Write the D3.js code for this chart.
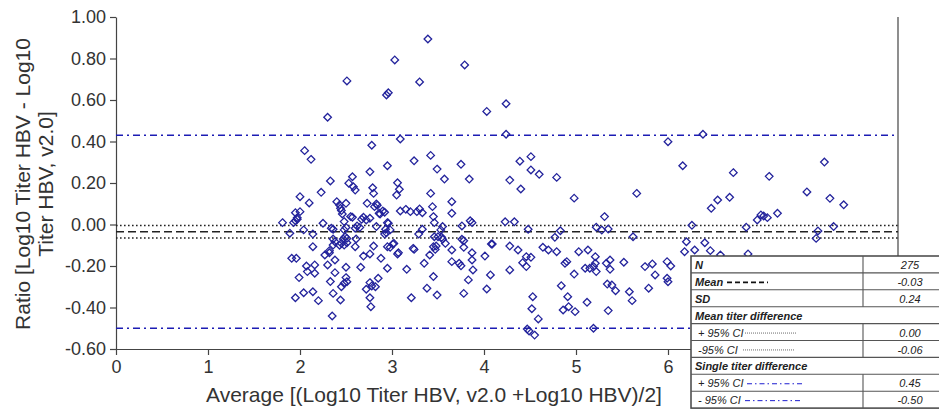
<!DOCTYPE html>
<html>
<head>
<meta charset="utf-8">
<script src="https://cdn.jsdelivr.net/npm/d3@7"></script>
<style>
  body { margin: 0; background: #fff; }
  svg { display: block; font-family: "Liberation Sans", Arial, sans-serif; }
</style>
</head>
<body>
<script>
// Bland-Altman points: average of log titers vs difference
const avg = [
  3.39,3.03,3.79,2.51,3.30,2.96,2.94,4.03,4.24,2.30,4.24,3.09,2.78,2.05,
  2.12,3.42,3.24,2.95,2.76,3.49,3.75,2.57,2.33,2.53,2.58,2.60,3.57,3.84,4.28,4.39,
  3.06,3.08,2.79,2.80,2.23,3.05,3.42,2.00,2.10,2.40,2.50,2.73,2.83,2.81,2.84,3.65,
  3.44,2.44,2.45,2.00,3.09,3.15,3.20,3.27,3.30,3.33,2.90,2.92,2.87,3.65,2.46,2.48,
  1.97,1.95,2.25,2.57,2.67,2.69,2.72,2.76,2.95,2.96,3.45,3.46,1.81,3.76,3.85,3.87,
  4.23,4.33,3.55,2.04,1.89,2.34,2.36,2.48,2.50,2.60,2.62,2.65,2.83,2.93,3.33,3.29,
  3.53,3.46,3.50,3.54,3.55,3.76,2.36,2.38,2.47,2.49,2.51,2.61,2.92,3.02,2.14,2.43,
  2.60,2.80,2.95,3.23,3.45,3.78,4.08,4.28,
  2.45,2.51,2.36,2.48,2.98,3.01,3.24,3.47,3.48,3.58,3.65,3.78,3.87,4.09,4.37,
  1.91,1.96,2.27,2.32,2.38,2.69,2.76,2.88,3.06,3.41,3.65,3.73,3.75,3.87,4.01,
  2.07,2.08,2.16,2.16,1.99,2.30,2.50,2.66,2.95,3.16,3.35,3.88,4.28,2.38,2.50,2.51,
  2.48,2.45,2.85,2.76,2.78,2.82,2.72,3.45,3.83,4.07,3.38,3.49,3.78,4.03,1.95,2.04,
  2.14,2.20,2.36,2.44,2.76,2.77,3.21,2.35,2.33,
  2.43,2.86,1.95,1.97,1.93,2.14,2.94,2.98,3.07,2.32,2.55,
  6.00,6.16,4.51,4.51,4.60,4.79,4.40,4.98,5.66,4.48,4.83,4.77,5.31,5.22,5.28,5.35,
  5.62,6.26,6.20,6.18,6.29,4.64,4.70,4.79,4.46,4.51,4.42,4.46,5.03,5.13,5.21,4.88,
  4.90,5.10,5.15,5.19,5.22,5.21,4.98,5.33,5.37,5.37,5.52,5.75,5.83,5.86,5.99,6.03,
  5.99,6.00,5.79,4.84,5.34,5.39,5.43,5.58,5.61,4.53,4.91,4.52,5.12,4.86,4.92,4.99,
  5.35,4.59,4.47,4.49,5.19,4.55,
  6.38,7.70,6.71,7.10,7.51,7.76,7.91,6.54,6.47,6.67,7.01,7.04,7.08,6.97,7.19,6.85,
  7.80,7.63,7.61,6.40,6.46,6.57,6.87
];
const ratio = [
  0.894,0.793,0.769,0.692,0.687,0.635,0.624,0.545,0.582,0.517,0.435,0.412,0.382,0.356,
  0.314,0.333,0.307,0.283,0.254,0.267,0.290,0.230,0.210,0.199,0.182,0.166,0.219,0.219,0.214,0.305,
  0.201,0.170,0.177,0.150,0.155,0.142,0.150,0.134,0.104,0.110,0.102,0.102,0.099,0.086,0.093,0.110,
  0.086,0.078,0.067,0.062,0.065,0.073,0.062,0.062,0.075,0.057,0.065,0.059,0.051,0.054,0.051,0.014,
  0.033,0.018,0.006,0.035,0.025,0.035,0.022,0.030,0.009,0.006,0.038,0.009,0.009,-0.007,0.018,0.009,
  0.013,0.013,-0.010,-0.026,-0.042,-0.018,-0.023,-0.026,-0.014,-0.018,-0.007,-0.014,-0.010,-0.023,-0.023,-0.046,
  -0.026,-0.059,-0.059,-0.062,-0.071,-0.071,-0.070,-0.083,-0.070,-0.059,-0.067,-0.070,-0.046,-0.091,-0.107,-0.100,
  -0.107,-0.104,-0.107,-0.115,-0.107,-0.110,-0.094,-0.104,
  -0.091,-0.088,-0.099,-0.099,-0.110,-0.094,-0.120,-0.120,-0.104,-0.091,-0.123,-0.078,-0.136,-0.094,-0.123,
  -0.163,-0.163,-0.147,-0.136,-0.171,-0.152,-0.142,-0.163,-0.142,-0.147,-0.179,-0.187,-0.199,-0.171,-0.152,
  -0.200,-0.227,-0.195,-0.235,-0.256,-0.195,-0.206,-0.206,-0.211,-0.216,-0.187,-0.219,-0.219,-0.232,-0.256,-0.276,
  -0.283,-0.300,-0.259,-0.280,-0.296,-0.300,-0.312,-0.251,-0.267,-0.243,-0.307,-0.340,-0.332,-0.311,-0.353,-0.329,
  -0.324,-0.367,-0.332,-0.364,-0.353,-0.396,-0.353,-0.441,-0.275,
  0.094,0.054,0.057,0.025,0.009,-0.046,-0.040,-0.026,-0.136,-0.126,0.038,
  0.399,0.283,0.327,0.263,0.242,0.227,0.171,0.127,0.150,-0.023,-0.030,-0.062,0.038,-0.013,-0.027,-0.022,
  -0.059,-0.004,-0.083,-0.131,-0.123,-0.110,-0.123,-0.131,-0.155,-0.158,-0.184,-0.203,-0.131,-0.123,-0.155,-0.187,
  -0.179,-0.211,-0.211,-0.203,-0.227,-0.187,-0.239,-0.187,-0.171,-0.216,-0.182,-0.203,-0.190,-0.243,-0.179,-0.200,
  -0.259,-0.276,-0.307,-0.295,-0.287,-0.292,-0.319,-0.324,-0.367,-0.348,-0.348,-0.406,-0.375,-0.412,-0.396,-0.420,
  -0.415,-0.455,-0.504,-0.513,-0.500,-0.533,
  0.435,0.301,0.250,0.232,0.157,0.126,0.095,0.118,0.078,0.131,0.046,0.041,0.033,0.022,0.054,-0.013,
  -0.010,-0.031,-0.067,-0.088,-0.126,-0.147,-0.142
];
// ticks 7 and 8 sit under the summary table, so only 0-6 are labelled
const xTicks = [0, 1, 2, 3, 4, 5, 6];
const yTicks = [-0.6, -0.4, -0.2, 0, 0.2, 0.4, 0.6, 0.8, 1.0];
const meanDiff = -0.035;
const meanCI = [-0.005, -0.065];
const agreement = [0.43, -0.50];

const tableLabels = ["N", "Mean", "SD", "Mean titer difference", "+ 95% CI", "-95% CI",
                     "Single titer difference", "+ 95% CI", "- 95% CI"];
const tableValues = ["275", "-0.03", "0.24", null, "0.00", "-0.06", null, "0.45", "-0.50"];

const width = 939, height = 409;
const svg = d3.select("body").append("svg")
    .attr("width", width)
    .attr("height", height);

const x = d3.scaleLinear().domain([0, 8.5]).range([116, 898]);
const y = d3.scaleLinear().domain([-0.6, 1.0]).range([349, 17]);

const fmt = d => d3.format(".2f")(d).replace("\u2212", "-");

// axes
const yAxis = svg.append("g")
    .attr("transform", `translate(${x(0)},0)`)
    .call(d3.axisLeft(y).tickValues(yTicks).tickFormat(fmt).tickSize(6).tickSizeOuter(0).tickPadding(4));
const xAxis = svg.append("g")
    .attr("transform", `translate(0,${y(-0.6)})`)
    .call(d3.axisBottom(x).tickValues(xTicks).tickFormat(d3.format("d")).tickSize(6).tickSizeOuter(0).tickPadding(5));

[xAxis, yAxis].forEach(a => {
  a.selectAll("path,line").attr("stroke", "#444").attr("stroke-width", 1.2);
  a.selectAll("text").attr("fill", "#333").style("font-size", "18px");
});

// right frame edge
svg.append("line")
    .attr("x1", x(8.5)).attr("x2", x(8.5))
    .attr("y1", y(1.0)).attr("y2", y(-0.6))
    .attr("stroke", "#444").attr("stroke-width", 1.2);

// reference lines
const lines = svg.append("g");
lines.selectAll(".ci")
  .data(meanCI)
  .join("line")
    .attr("x1", x(0)).attr("x2", x(8.5))
    .attr("y1", d => y(d)).attr("y2", d => y(d))
    .attr("stroke", "#222").attr("stroke-width", 1.4)
    .attr("stroke-dasharray", "1.6,2.4");
lines.append("line")
    .attr("x1", x(0)).attr("x2", x(8.5))
    .attr("y1", y(meanDiff)).attr("y2", y(meanDiff))
    .attr("stroke", "#222").attr("stroke-width", 1.3)
    .attr("stroke-dasharray", "8,4");
lines.selectAll(".loa")
  .data(agreement)
  .join("line")
    .attr("x1", x(0)).attr("x2", x(8.5))
    .attr("y1", d => y(d)).attr("y2", d => y(d))
    .attr("stroke", "#1c1cb4").attr("stroke-width", 1.6)
    .attr("stroke-dasharray", "7,4,2,4");

// points
svg.append("g")
  .selectAll("path")
  .data(d3.range(avg.length))
  .join("path")
    .attr("transform", i => `translate(${x(avg[i])},${y(ratio[i])})`)
    .attr("d", "M0,-3.8L3.8,0L0,3.8L-3.8,0Z")
    .attr("fill", "none")
    .attr("stroke", "#23239c")
    .attr("stroke-width", 1.3);

// axis titles
svg.append("text")
    .attr("x", 434).attr("y", 402)
    .attr("text-anchor", "middle")
    .attr("fill", "#333")
    .style("font-size", "21px")
    .text("Average [(Log10 Titer HBV, v2.0 +Log10 HBV)/2]");

const yTitle = svg.append("text")
    .attr("transform", "translate(30,184) rotate(-90)")
    .attr("text-anchor", "middle")
    .attr("fill", "#333")
    .style("font-size", "21px");
yTitle.append("tspan").attr("x", 0).attr("y", 0).text("Ratio [Log10 Titer HBV - Log10");
yTitle.append("tspan").attr("x", 0).attr("y", 23).text("Titer HBV, v2.0]");

// summary table
const tx = 691, ty = 256, rowH = 16.9, tw = 270, colX = 863;
const table = svg.append("g");
table.append("rect")
    .attr("x", tx).attr("y", ty)
    .attr("width", tw).attr("height", rowH * tableLabels.length)
    .attr("fill", "#fff").attr("stroke", "#444").attr("stroke-width", 1.5);

tableLabels.forEach((lab, i) => {
  const top = ty + i * rowH;
  if (i > 0) {
    table.append("line")
        .attr("x1", tx).attr("x2", tx + tw)
        .attr("y1", top).attr("y2", top)
        .attr("stroke", "#555").attr("stroke-width", 1.1);
  }
  if (tableValues[i] !== null) {
    table.append("line")
        .attr("x1", colX).attr("x2", colX)
        .attr("y1", top).attr("y2", top + rowH)
        .attr("stroke", "#555").attr("stroke-width", 1.1);
    table.append("text")
        .attr("x", 910).attr("y", top + 13)
        .attr("text-anchor", "middle")
        .attr("fill", "#222")
        .style("font-size", "11px").style("font-style", "italic")
        .text(tableValues[i]);
  }
  const sub = lab.includes("CI");
  table.append("text")
      .attr("x", sub ? tx + 7 : tx + 4).attr("y", top + 13)
      .attr("fill", "#222")
      .style("font-size", "11px").style("font-style", "italic")
      .style("font-weight", sub ? "normal" : "bold")
      .text(lab);
});

// line samples inside the table
const mid = i => ty + i * rowH + rowH / 2 + 1;
table.append("line")
    .attr("x1", 727).attr("x2", 768).attr("y1", mid(1)).attr("y2", mid(1))
    .attr("stroke", "#111").attr("stroke-width", 1.8).attr("stroke-dasharray", "5,3");
[[4, 745, 797], [5, 743, 795]].forEach(([i, a, b]) => {
  table.append("line")
      .attr("x1", a).attr("x2", b).attr("y1", mid(i)).attr("y2", mid(i))
      .attr("stroke", "#444").attr("stroke-width", 0.8).attr("stroke-dasharray", "1,1");
});
[[7, 747, 805], [8, 745, 803]].forEach(([i, a, b]) => {
  table.append("line")
      .attr("x1", a).attr("x2", b).attr("y1", mid(i)).attr("y2", mid(i))
      .attr("stroke", "#1c1cd0").attr("stroke-width", 1).attr("stroke-dasharray", "5,3,1.5,3");
});
</script>
</body>
</html>
